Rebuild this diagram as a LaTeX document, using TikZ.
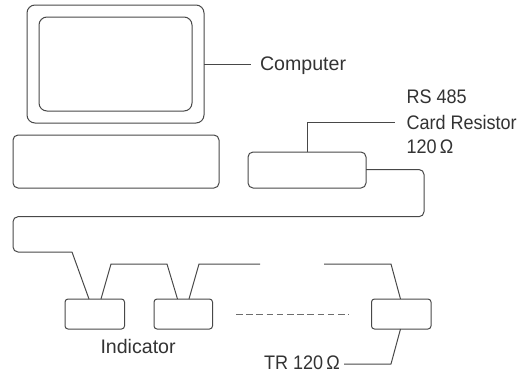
\documentclass[tikz,border=0pt]{standalone}
\usepackage{fontspec}
\setmainfont{Liberation Sans}
\newfontfamily\narrowsans[FakeStretch=0.92]{Liberation Sans}
\definecolor{ink}{HTML}{484848}
\definecolor{txt}{HTML}{333333}
\tikzset{
  boxa/.style={draw=ink,line width=1pt,rounded corners=#1,rectangle,inner sep=0pt,outer sep=0pt,anchor=north west},
  boxa/.default=5pt,
  wire/.style={draw=ink,line width=1pt,line join=round},
  lbl/.style={text=txt,inner sep=0pt,outer sep=0pt,anchor=base west,font=\fontsize{19.6}{25}\selectfont},
  lbls/.style={text=txt,inner sep=0pt,outer sep=0pt,anchor=base west,font=\narrowsans\fontsize{19.6}{25}\selectfont},
}
\begin{document}
\begin{tikzpicture}[x=1pt,y=-1pt]
\useasboundingbox (0,0) rectangle (528,376);
\node[boxa=8pt,minimum width=177pt,minimum height=118pt] (monitor) at (27,5) {};
\node[boxa=8pt,minimum width=153pt,minimum height=94pt] (screen) at (39,17) {};
\node[boxa,minimum width=206pt,minimum height=53pt] (keyboard) at (13,135) {};
\node[boxa,minimum width=118pt,minimum height=36pt] (card) at (248,152) {};
\node[boxa=3pt,minimum width=59.5pt,minimum height=30pt] (ind1) at (65,299) {};
\node[boxa=3pt,minimum width=58.5pt,minimum height=30pt] (ind2) at (154,299) {};
\node[boxa=3pt,minimum width=59.5pt,minimum height=30pt] (ind3) at (371.5,299) {};

\node[lbl] (computer) at (260,70) {Computer};
\node[lbls] (rs) at (406.5,103.5) {RS 485};
\node[lbls] (cres) at (406.5,129) {Card Resistor};
\node[lbls] (ohm) at (406.5,153.5) {120\,Ω};
\node[lbl] (indicator) at (100.5,353) {Indicator};
\node[lbls] (tr) at (264,369.5) {TR 120\,Ω};

\coordinate (cardtop) at (307,152);
\coordinate (cardelbow) at (307,122);
\coordinate (cardend) at (395,122);
\coordinate (cabR) at (366,169.5);
\coordinate (i1a) at (89,299);
\coordinate (i1b) at (101,299);
\coordinate (i2a) at (177.5,299);
\coordinate (i2b) at (189,299);
\coordinate (i3a) at (400.5,299);
\coordinate (i3b) at (400.5,329);
\coordinate (gapL) at (260,264);
\coordinate (gapR) at (324,264);
\coordinate (trend) at (344,364);
\coordinate (dashL) at (236,314);
\coordinate (dashR) at (349,314);

\draw[wire] (monitor.east) -- (251,64);
\draw[wire] (cardtop) -- (cardelbow) -- (cardend);
\draw[wire,rounded corners=5pt] (cabR) -- (424,169.5) -- (424,216.7) -- (13,216.7) -- (13,252) -- (72,252);
\draw[wire] (72,252) -- (i1a);
\draw[wire] (i1b) -- (111,264) -- (167,264) -- (i2a);
\draw[wire] (i2b) -- (199,264) -- (gapL);
\draw[wire] (gapR) -- (391,264) -- (i3a);
\draw[wire] (i3b) -- (391,364) -- (trend);
\draw[draw=ink!80,line width=.8pt,dash pattern=on 6.5pt off 3.7pt] (dashL) -- (dashR);
\end{tikzpicture}
\end{document}
